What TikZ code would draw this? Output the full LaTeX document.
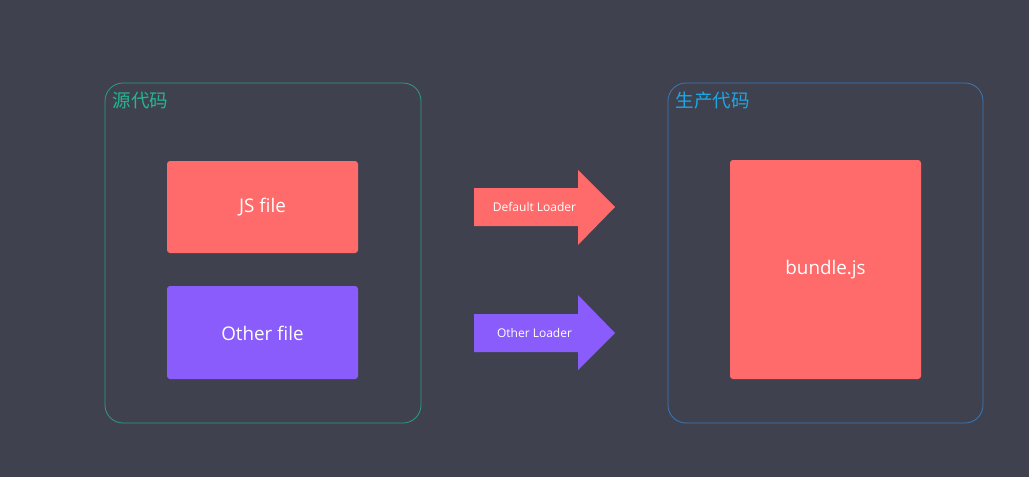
\documentclass[tikz,border=0pt]{standalone}
\usepackage{fontspec}
\setmainfont{Open Sans}
\newfontfamily\cjk{Noto Sans CJK SC}
\definecolor{bg}{HTML}{40414F}
\definecolor{boxred}{HTML}{FF6B6B}
\definecolor{boxpurple}{HTML}{8A5CFC}
\definecolor{grn}{HTML}{2A9E82}
\definecolor{grntxt}{HTML}{22B792}
\definecolor{blu}{HTML}{3A78B6}
\definecolor{blutxt}{HTML}{1DA7E4}
\begin{document}
\begin{tikzpicture}[x=1pt,y=-1pt,
  container/.style={draw=#1,line width=0.8pt,rounded corners=18pt},
  filebox/.style={fill=#1,draw=none,rounded corners=3pt},
  boxlabel/.style={text=white,font=\fontsize{18.8}{22}\selectfont},
  arrowlabel/.style={text=white,font=\fontsize{12}{14}\selectfont},
  title/.style={anchor=west,font=\cjk\fontsize{18.5}{22}\selectfont}]
\fill[bg] (0,0) rectangle (1029,477);
\useasboundingbox (0,0) rectangle (1029,477);
% containers
\draw[container=grn] (105,83) rectangle (421,423);
\node[title,text=grntxt] (srcTitle) at (109,101) {源代码};
\draw[container=blu] (668,83) rectangle (983,423);
\node[title,text=blutxt] (prodTitle) at (672,101) {生产代码};
% file boxes
\fill[filebox=boxred] (167,161) rectangle (358,253);
\node[boxlabel] (js) at (262.5,207.5) {JS file};
\fill[filebox=boxpurple] (167,286) rectangle (358,379);
\node[boxlabel] (other) at (262.5,333) {Other file};
\fill[filebox=boxred] (730,160) rectangle (921,379);
\node[boxlabel] (bundle) at (825.5,270) {bundle.js};
% arrows
\fill[boxred] (474,188) -- (578,188) -- (578,170) -- (615,207) -- (578,245) -- (578,226) -- (474,226) -- cycle;
\node[arrowlabel] (defLoader) at (534.5,207) {Default Loader};
\fill[boxpurple] (474,314) -- (578,314) -- (578,295) -- (615,333) -- (578,370) -- (578,352) -- (474,352) -- cycle;
\node[arrowlabel] (othLoader) at (534.5,333) {Other Loader};
\end{tikzpicture}
\end{document}
